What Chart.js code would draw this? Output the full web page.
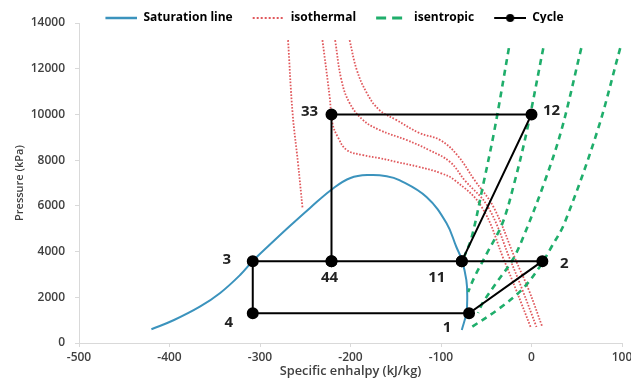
<!DOCTYPE html>
<html>
<head>
<meta charset="utf-8">
<script src="https://cdn.jsdelivr.net/npm/chart.js@4/dist/chart.umd.min.js"></script>
<style>
  html, body { margin: 0; padding: 0; background: #fff; }
  #wrap { width: 631px; height: 382px; position: relative; }
</style>
</head>
<body>
<div id="wrap"><canvas id="phChart"></canvas></div>
<script>
        // Saturation dome (h in kJ/kg, p in kPa)
        const satH = [-420, -395, -366, -344, -322, -308, -289, -267, -245, -220, -200, -179, -160, -146, -116, -94, -83, -77, -72, -71, -72, -77];
        const satP = [600, 1006, 1600, 2190, 2975, 3590, 4310, 5120, 5900, 6740, 7220, 7350, 7300, 7130, 6390, 5250, 4200, 3630, 2760, 2010, 1310, 570];

        // Isotherms, left to right
        const iso1H = [-269, -264, -258, -253];
        const iso1P = [13250, 10060, 7870, 5900];
        const iso2H = [-231, -223, -220, -214, -204, -186, -168, -149, -124, -101, -85, -55, -30, -17, -1];
        const iso2P = [13250, 10760, 9620, 9010, 8440, 8220, 8090, 7920, 7700, 7440, 7130, 5950, 3590, 2320, 700];
        const iso3H = [-217, -210, -201, -186, -168, -138, -113, -90, -74, -48, -23, -10, 5.5];
        const iso3P = [13250, 11500, 10500, 9750, 9320, 8880, 8440, 7920, 7130, 5950, 3590, 2320, 700];
        const iso4H = [-201, -193, -182, -168, -149, -124, -101, -82, -63, -42, -17, -3, 12];
        const iso4P = [13250, 11940, 10940, 10190, 9750, 9190, 8880, 8220, 7130, 5950, 3590, 2320, 700];

        // Isentropes, left to right
        const isenAH = [-25, -41, -53, -66, -74];
        const isenAP = [12900, 9300, 7000, 4640, 3800];
        const isenBH = [13, -5, -19, -32, -49, -63, -70];
        const isenBP = [12900, 9300, 7000, 5250, 3940, 2890, 2230];
        const isenCH = [55, 33, 14, -9, -21, -39, -54, -59];
        const isenCP = [12900, 9300, 7000, 4640, 3630, 2620, 1750, 1310];
        const isenDH = [98, 73, 36.5, 22, 9, -11, -38, -66];
        const isenDP = [12900, 9300, 5250, 4200, 3330, 2320, 1440, 700];

        // Cycle path (11 and 44 are visited twice so every segment gets drawn)
        const cycleLabels = ['11', '12', '33', '44', '3', '4', '1', '2', '', ''];
        const cycleH = [-77, 0, -221, -221, -308, -308, -69, 12, -77, -221];
        const cycleP = [3580, 10000, 10000, 3580, 3580, 1300, 1300, 3580, 3580, 3580];

        // Axis ticks
        const xTicks = [-500, -400, -300, -200, -100, 0, 100];
        const yTicks = [0, 2000, 4000, 6000, 8000, 10000, 12000, 14000];

        function toPoints(h, p) {
            return h.map((v, i) => ({ x: v, y: p[i] }));
        }

        // several curves in one dataset, split by a null point
        function joinCurves(curves) {
            let out = [];
            curves.forEach((c, k) => {
                if (k > 0) out.push({ x: null, y: null });
                out = out.concat(toPoints(c[0], c[1]));
            });
            return out;
        }

        const blue = '#3b93bd';
        const red = '#e0585c';
        const green = '#1fae6b';
        const black = '#000000';

        // little canvases used as legend symbols
        function legendSample(color, width, dash, dot) {
            const c = document.createElement('canvas');
            c.width = 40;
            c.height = 12;
            const g = c.getContext('2d');
            g.strokeStyle = color;
            g.lineWidth = width;
            g.setLineDash(dash);
            g.beginPath();
            g.moveTo(8, 6);
            g.lineTo(40, 6);
            g.stroke();
            if (dot) {
                g.fillStyle = color;
                g.beginPath();
                g.arc(24, 6, 4, 0, Math.PI * 2);
                g.fill();
            }
            return c;
        }
        const samples = [
            legendSample(blue, 2.5, [], false),
            legendSample(red, 2, [2, 2], false),
            legendSample(green, 3, [10, 6], false),
            legendSample(black, 2, [], true)
        ];

        // where each point name sits relative to its marker
        const labelOffsets = {
            '33': [-22, -3], '12': [20, -4], '3': [-26, -1], '4': [-24, 9],
            '44': [-2, 17], '11': [-25, 17], '2': [22, 3], '1': [-22, 14]
        };

        const pointNames = {
            id: 'pointNames',
            afterDatasetsDraw(chart) {
                const meta = chart.getDatasetMeta(3);
                const ctx = chart.ctx;
                ctx.save();
                ctx.font = 'bold 15px "Open Sans"';
                ctx.fillStyle = '#222222';
                ctx.textAlign = 'center';
                ctx.textBaseline = 'middle';
                meta.data.forEach((pt, i) => {
                    const name = cycleLabels[i];
                    if (!name) return;
                    const off = labelOffsets[name];
                    ctx.fillText(name, pt.x + off[0], pt.y + off[1]);
                });
                ctx.restore();
            }
        };

        // keep the legend strip short and nudge it right, like the original
        const legendTweak = {
            id: 'legendTweak',
            afterInit(chart) {
                const lg = chart.legend;
                const fit = lg.fit;
                lg.fit = function () {
                    fit.call(this);
                    this.height = 23;
                };
                const draw = lg.draw;
                lg.draw = function () {
                    this.ctx.save();
                    this.ctx.translate(15, 0);
                    draw.call(this);
                    this.ctx.restore();
                };
            }
        };

        const tickFont = { family: 'Open Sans', size: 12, weight: '600' };

        const ctx = document.getElementById('phChart').getContext('2d');
        const chart = new Chart(ctx, {
            type: 'scatter',
            data: {
                datasets: [{
                    label: 'Saturation line',
                    data: toPoints(satH, satP),
                    showLine: true,
                    borderColor: blue,
                    borderWidth: 2,
                    pointRadius: 0,
                    tension: 0.4,
                    order: 4
                }, {
                    label: 'isothermal',
                    data: joinCurves([[iso1H, iso1P], [iso2H, iso2P], [iso3H, iso3P], [iso4H, iso4P]]),
                    showLine: true,
                    borderColor: red,
                    borderWidth: 1.8,
                    borderDash: [1.6, 1.6],
                    pointRadius: 0,
                    tension: 0.4,
                    order: 3
                }, {
                    label: 'isentropic',
                    data: joinCurves([[isenAH, isenAP], [isenBH, isenBP], [isenCH, isenCP], [isenDH, isenDP]]),
                    showLine: true,
                    borderColor: green,
                    borderWidth: 2.6,
                    borderDash: [6, 5],
                    pointRadius: 0,
                    tension: 0.35,
                    order: 2
                }, {
                    label: 'Cycle',
                    data: toPoints(cycleH, cycleP),
                    showLine: true,
                    borderColor: black,
                    borderWidth: 2,
                    pointRadius: 5,
                    pointBackgroundColor: black,
                    pointBorderColor: black,
                    tension: 0,
                    order: 1
                }]
            },
            options: {
                responsive: true,
                maintainAspectRatio: false,
                animation: false,
                layout: { padding: 0 },
                scales: {
                    x: {
                        type: 'linear',
                        min: xTicks[0],
                        max: xTicks[xTicks.length - 1],
                        afterBuildTicks: (scale) => { scale.ticks = xTicks.map(v => ({ value: v })); },
                        afterFit: (scale) => { scale.height = 39; scale.paddingRight = 9; },
                        ticks: { font: tickFont, color: '#404040', padding: 3, callback: v => String(v) },
                        grid: { drawOnChartArea: false, tickLength: 4, color: '#d9d9d9' },
                        border: { color: '#d9d9d9' },
                        title: { display: true, text: 'Specific enhalpy (kJ/kg)', font: { family: 'Open Sans', size: 12.8, weight: '600' }, color: '#404040', padding: { top: 0, bottom: 3 } }
                    },
                    y: {
                        type: 'linear',
                        min: yTicks[0],
                        max: yTicks[yTicks.length - 1],
                        afterBuildTicks: (scale) => { scale.ticks = yTicks.map(v => ({ value: v })); },
                        afterFit: (scale) => { scale.width = 79; },
                        ticks: { font: tickFont, color: '#404040', padding: 10, callback: v => String(v) },
                        grid: { drawOnChartArea: false, tickLength: 4, color: '#d9d9d9' },
                        border: { color: '#d9d9d9' },
                        title: { display: true, text: 'Pressure (kPa)', font: { family: 'Open Sans', size: 11, weight: '600' }, color: '#404040', padding: { top: 13, bottom: 0 } }
                    }
                },
                plugins: {
                    tooltip: { enabled: false },
                    legend: {
                        position: 'top',
                        labels: {
                            usePointStyle: true,
                            pointStyleWidth: 40,
                            padding: 12,
                            color: '#333333',
                            font: { family: 'Open Sans', size: 12, weight: 'bold' },
                            generateLabels: (chart) => chart.data.datasets.map((ds, i) => ({
                                text: ds.label,
                                pointStyle: samples[i],
                                datasetIndex: i,
                                hidden: false,
                                lineWidth: 0,
                                fillStyle: ds.borderColor,
                                strokeStyle: ds.borderColor
                            }))
                        }
                    }
                }
            },
            plugins: [legendTweak, pointNames]
        });
</script>
</body>
</html>
